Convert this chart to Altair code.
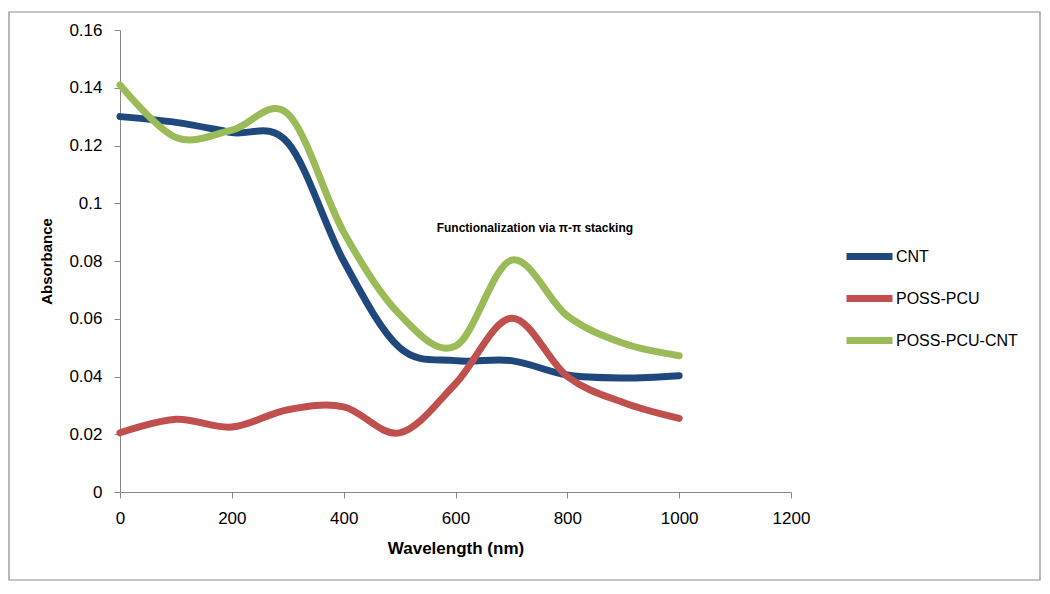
import altair as alt
import pandas as pd

wavelength = [0, 100, 200, 300, 400, 500, 600, 700, 800, 900, 1000]
cnt = [0.130, 0.128, 0.1245, 0.121, 0.080, 0.050, 0.0455, 0.0455, 0.0405, 0.0395, 0.0403]
poss_pcu = [0.0205, 0.0252, 0.0225, 0.0285, 0.0295, 0.0205, 0.0375, 0.0602, 0.0400, 0.0310, 0.0255]
poss_pcu_cnt = [0.141, 0.1228, 0.1253, 0.131, 0.090, 0.0615, 0.0505, 0.0803, 0.0610, 0.0515, 0.0472]

series = ['CNT', 'POSS-PCU', 'POSS-PCU-CNT']
colors = ['#1F497D', '#C0504D', '#9BBB59']

x_ticks = [0, 200, 400, 600, 800, 1000, 1200]
y_ticks = [0, 0.02, 0.04, 0.06, 0.08, 0.1, 0.12, 0.14, 0.16]

note_text = ['Functionalization via π-π stacking']
note_x = [742]
note_y = [0.0914]

rows = []
for name, vals in zip(series, [cnt, poss_pcu, poss_pcu_cnt]):
    for w, v in zip(wavelength, vals):
        rows.append({'Wavelength': w, 'Absorbance': v, 'Series': name})
df = pd.DataFrame(rows)
note = pd.DataFrame({'x': note_x, 'y': note_y, 'text': note_text})

font = 'Liberation Sans'

lines = alt.Chart(df).mark_line(
    interpolate='cardinal', strokeWidth=7, strokeCap='round', strokeJoin='round'
).encode(
    x=alt.X('Wavelength:Q',
            scale=alt.Scale(domain=[0, 1200], nice=False),
            axis=alt.Axis(values=x_ticks, format='d', title='Wavelength (nm)',
                          labelFlush=False, titleFontSize=17, titlePadding=14,
                          labelPadding=12)),
    y=alt.Y('Absorbance:Q',
            scale=alt.Scale(domain=[0, 0.16], nice=False),
            axis=alt.Axis(values=y_ticks, format='~g', title='Absorbance',
                          labelFlush=False, titleFontSize=15, titlePadding=14,
                          labelPadding=12)),
    color=alt.Color('Series:N',
                    scale=alt.Scale(domain=series, range=colors),
                    legend=alt.Legend(title=None, orient='none', legendX=723, legendY=200,
                                      symbolType='stroke', symbolSize=2116,
                                      symbolStrokeWidth=7, labelFontSize=16,
                                      labelFont=font, labelColor='black',
                                      labelOffset=0, rowPadding=1)),
    order=alt.Order('Wavelength:Q'),
)

text = alt.Chart(note).mark_text(
    font=font, fontSize=12, fontWeight='bold', color='black'
).encode(x='x:Q', y='y:Q', text='text:N')

frame = alt.Chart(note).mark_rect(
    fill=None, fillOpacity=0, stroke='#8c8c8c', strokeWidth=1.2
).encode(
    x=alt.value(-111), x2=alt.value(920), y=alt.value(-18), y2=alt.value(550)
)

chart = (
    alt.layer(frame, lines, text)
    .properties(width=671, height=462,
                autosize=alt.AutoSizeParams(type='none'),
                padding={'left': 112, 'top': 22, 'right': 250, 'bottom': 94})
    .configure_view(stroke=None)
    .configure_axis(domainColor='#868686', tickColor='#868686', tickSize=6,
                    grid=False, labelFont=font, labelFontSize=17, labelColor='black',
                    titleFont=font, titleColor='black', titleFontWeight='bold')
)

chart.save('out.html', embed_options={'renderer': 'svg', 'actions': False})
